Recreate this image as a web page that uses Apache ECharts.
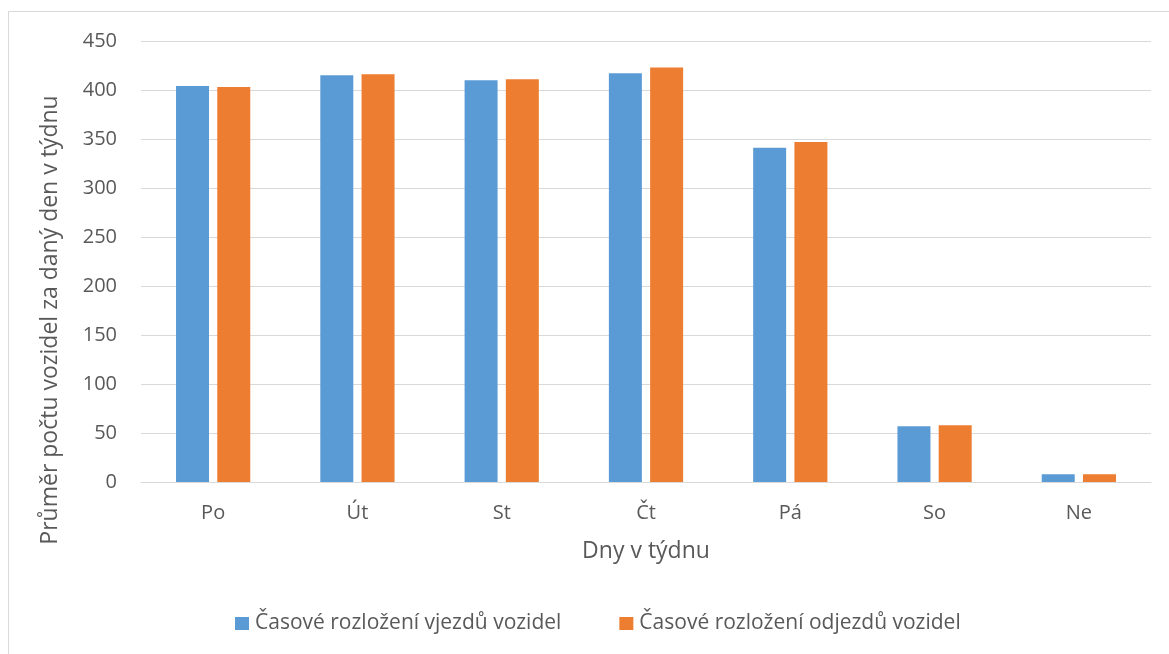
<!DOCTYPE html>
<html>
<head>
<meta charset="utf-8">
<script src="https://cdn.jsdelivr.net/npm/echarts@6/dist/echarts.min.js"></script>
<style>
  html, body { margin: 0; padding: 0; background: #fff; }
  #chart { width: 1169px; height: 654px; }
</style>
</head>
<body>
<div id="chart"></div>
<script>
// Dny v týdnu
const days = ['Po', 'Út', 'St', 'Čt', 'Pá', 'So', 'Ne'];
// Průměrný počet vjezdů za den
const arrivals = [404, 415, 410, 417, 341, 57, 8];
// Průměrný počet odjezdů za den
const departures = [403, 416, 411, 423, 347, 58, 8];
// Popisky osy Y
const yTicks = [0, 50, 100, 150, 200, 250, 300, 350, 400, 450];

const FONT = '"Open Sans", sans-serif';
const TXT = '#595959';

const chart = echarts.init(document.getElementById('chart'), null, { renderer: 'canvas' });
chart.setOption({
  backgroundColor: '#ffffff',
  animation: false,
  graphic: [
    {
      type: 'rect',
      shape: { x: 8.5, y: 11.5, width: 1170, height: 700 },
      style: { fill: 'none', stroke: '#d9d9d9', lineWidth: 1 },
      silent: true
    },
    {
      // Popisek osy Y
      type: 'text',
      x: 50,
      y: 320,
      rotation: Math.PI / 2,
      style: {
        text: 'Průměr počtu vozidel za daný den v týdnu',
        font: '23px "Open Sans", sans-serif',
        fill: TXT,
        align: 'center',
        verticalAlign: 'middle'
      },
      silent: true
    }
  ],
  grid: { left: 141, right: 18, top: 41, bottom: 172, containLabel: false },
  legend: {
    left: 235,
    top: 613,
    padding: 0,
    itemWidth: 14,
    itemHeight: 13,
    itemGap: 58,
    icon: 'rect',
    textStyle: { fontFamily: FONT, fontSize: 21, color: TXT, padding: [0, 0, 0, 1] },
    data: ['Časové rozložení vjezdů vozidel', 'Časové rozložení odjezdů vozidel']
  },
  xAxis: {
    type: 'category',
    data: days,
    name: 'Dny v týdnu',
    nameLocation: 'middle',
    nameGap: 58,
    nameTextStyle: { fontFamily: FONT, fontSize: 23, color: TXT },
    axisLine: { lineStyle: { color: '#d9d9d9', width: 1 } },
    axisTick: { show: false },
    axisLabel: { fontFamily: FONT, fontSize: 20, color: TXT, margin: 21 }
  },
  yAxis: {
    type: 'value',
    min: yTicks[0],
    max: yTicks[yTicks.length - 1],
    interval: yTicks[1] - yTicks[0],
    axisLine: { show: false },
    axisTick: { show: false },
    splitLine: { lineStyle: { color: '#d9d9d9', width: 1 } },
    axisLabel: { fontFamily: FONT, fontSize: 20, color: TXT, margin: 24 }
  },
  series: [
    {
      name: 'Časové rozložení vjezdů vozidel',
      type: 'bar',
      data: arrivals,
      barWidth: 33,
      barGap: '25%',
      itemStyle: { color: '#5b9bd5' }
    },
    {
      name: 'Časové rozložení odjezdů vozidel',
      type: 'bar',
      data: departures,
      barWidth: 33,
      itemStyle: { color: '#ed7d31' }
    }
  ]
});
</script>
</body>
</html>
